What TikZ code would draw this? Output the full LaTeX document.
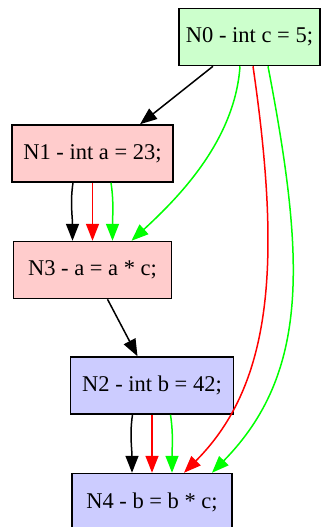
\documentclass[tikz,border=0pt]{standalone}
\usepackage{fontspec}
\setmainfont{Liberation Serif}
\definecolor{stmtgreen}{RGB}{204, 255, 204}
\definecolor{stmtred}{RGB}{255, 204, 204}
\definecolor{stmtblue}{RGB}{204, 204, 255}
\definecolor{depgreen}{RGB}{0, 255, 0}
\definecolor{depred}{RGB}{255, 0, 0}
\usepackage{tikz}
\usetikzlibrary{arrows.meta, positioning}

\begin{document}
\begin{tikzpicture}[>={Triangle[length=8.5pt, width=6.5pt]}, line width=0.75pt,
    every node/.style={font=\fontsize{11.25}{13}\selectfont},
    stmt/.style={draw, rectangle, minimum height=28.5pt, inner sep=0pt}]
        \useasboundingbox (0,0) rectangle (161pt,-263.5pt);
        \node[stmt, minimum width=80.5pt, fill=stmtred] (N1) at (46.25pt,-76.75pt) {N1 - int a = 23;};
        \node[stmt, minimum width=70.5pt, fill=stmtgreen, above=29pt of N1, xshift=78.5pt] (N0) {N0 - int c = 5;};
        \node[stmt, minimum width=79pt, fill=stmtred, below=29pt of N1] (N3) {N3 - a = a * c;};
        \node[stmt, minimum width=81.5pt, fill=stmtblue, below=28.5pt of N3, xshift=29.75pt] (N2) {N2 - int b = 42;};
        \node[stmt, minimum width=80pt, fill=stmtblue, below=29pt of N2] (N4) {N4 - b = b * c;};
        \draw[->] ([xshift=-18.25pt]N0.south) -- ([xshift=23.75pt]N1.north);
        \draw[->, depgreen] ([xshift=-4.75pt]N0.south) .. controls +(-2.5pt,-36.5pt) and +(24.5pt,22.5pt) .. ([xshift=19.5pt]N3.north);
        \draw[->, depred] ([xshift=1.75pt]N0.south) .. controls +(14pt,-96.5pt) and +(45pt,45pt) .. ([xshift=16pt]N4.north);
        \draw[->, depgreen] ([xshift=9.25pt]N0.south) .. controls +(18.5pt,-96.5pt) and +(49pt,50pt) .. ([xshift=30pt]N4.north);
        \draw[->] ([xshift=-9.75pt]N1.south) .. controls +(-1.5pt,-10pt) and +(0,12pt) .. ([xshift=-10pt]N3.north);
        \draw[->, depred] (N1.south) -- (N3.north);
        \draw[->, depgreen] ([xshift=9.25pt]N1.south) .. controls +(1.5pt,-10pt) and +(0,12pt) .. ([xshift=10pt]N3.north);
        \draw[->] ([xshift=7.5pt]N3.south) -- ([xshift=-7.25pt]N2.north);
        \draw[->] ([xshift=-9.75pt]N2.south) .. controls +(-1.5pt,-10pt) and +(0,12pt) .. ([xshift=-10pt]N4.north);
        \draw[->, depred] (N2.south) -- (N4.north);
        \draw[->, depgreen] ([xshift=9.25pt]N2.south) .. controls +(1.5pt,-10pt) and +(0,12pt) .. ([xshift=10pt]N4.north);
      \end{tikzpicture}
\end{document}
